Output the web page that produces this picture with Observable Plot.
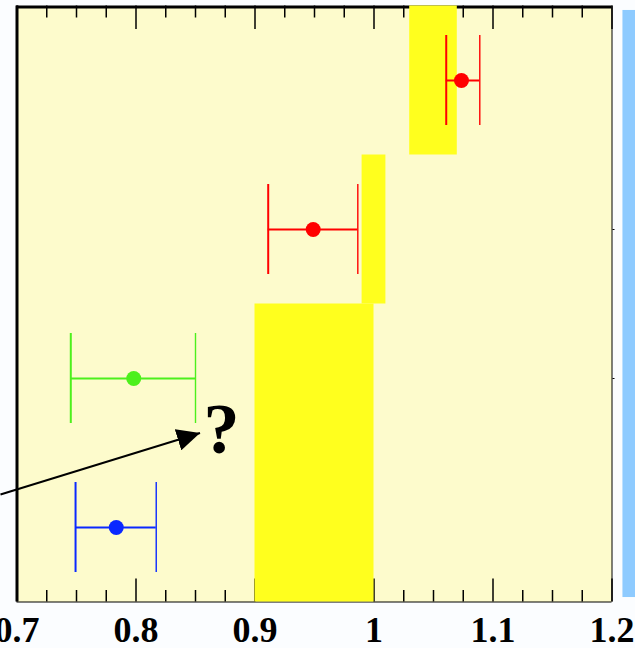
<!DOCTYPE html>
<html><head><meta charset="utf-8">
<script src="https://cdn.jsdelivr.net/npm/d3@7"></script>
<script src="https://cdn.jsdelivr.net/npm/@observablehq/plot@0.6"></script>
<style>html,body{margin:0;padding:0;background:#fbfdff;overflow:hidden}</style>
</head><body><div id="chart"></div>
<script>
// ---- data ----
const rows    = [4, 3, 2, 1];
const centers = [1.0735, 0.9489, 0.7981, 0.7834];
const lows    = [1.0607, 0.9111, 0.7452, 0.7492];
const highs   = [1.0889, 0.9864, 0.8500, 0.8170];
const colors  = ["#ff0000", "#ff0000", "#4cf01c", "#0a28ff"];

const bandLo     = [1.03, 0.99, 0.90];
const bandHi     = [1.07, 1.01, 1.00];
const bandTop    = [4.5, 3.5, 2.5];
const bandBottom = [3.5, 2.5, 0.5];

const majorTicks = [0.7, 0.8, 0.9, 1.0, 1.1, 1.2];
const tickLabels = ["0.7", "0.8", "0.9", "1", "1.1", "1.2"];
const minorTicks = [0.725, 0.75, 0.775, 0.825, 0.85, 0.875, 0.925, 0.95, 0.975, 1.025, 1.05, 1.075, 1.125, 1.15, 1.175];
const rowTicks = [2, 3];

const arrowStart = [0.6861, 1.2215];
const arrowEnd   = [0.8538, 1.634];
const noteX = [0.8718], noteY = [1.497], noteText = ["?"];

const sideBarX = [1.2092, 1.235], sideBarY = [0.53, 4.47];

// ---- tables ----
const points = rows.map((r, i) => ({row: r, c: centers[i], lo: lows[i], hi: highs[i], color: colors[i]}));
const bands = bandLo.map((v, i) => ({x1: v, x2: bandHi[i], y1: bandBottom[i], y2: bandTop[i]}));
const labelOf = new Map(majorTicks.map((t, i) => [t, tickLabels[i]]));
const capHalf = 0.302;
const yMin = 0.5, yMax = 4.5;

const W = 635, H = 648, mL = 16.5, mR = 23.5, mT = 5.5, mB = 46.5;
const pxPerY = (H - mT - mB) / (yMax - yMin);   // pixels per y unit (for tick lengths)

// ticks hidden under bands that touch the bottom / top edge are left out
const bottomBands = bands.filter(b => b.y1 === yMin);
const topBands = bands.filter(b => b.y2 === yMax);
const notUnder = (bs) => (t) => !bs.some(b => t > b.x1 && t < b.x2);
const tickRows = (vals, bs, edge, lenPx) => vals.filter(notUnder(bs)).map(v => ({v, a: edge, b: edge === yMin ? yMin + lenPx / pxPerY : yMax - lenPx / pxPerY}));
const ticks = [
  ...tickRows(majorTicks, bottomBands, yMin, 23),
  ...tickRows(minorTicks, bottomBands, yMin, 11.5),
  ...tickRows(majorTicks, topBands, yMax, 23.5),
  ...tickRows(minorTicks, topBands, yMax, 12)
];

function filledArrow(color, context) {
  const ns = "http://www.w3.org/2000/svg";
  const doc = context.document;
  const m = doc.createElementNS(ns, "marker");
  m.setAttribute("viewBox", "0 -11 23 22");
  m.setAttribute("markerWidth", 23);
  m.setAttribute("markerHeight", 22);
  m.setAttribute("markerUnits", "userSpaceOnUse");
  m.setAttribute("refX", 23);
  m.setAttribute("refY", 0);
  m.setAttribute("orient", "auto");
  const p = doc.createElementNS(ns, "path");
  p.setAttribute("d", "M0,-11L23,0L0,11Z");
  p.setAttribute("fill", "#000");
  p.setAttribute("stroke", "none");
  m.appendChild(p);
  return m;
}

const serif = "'Liberation Serif', 'DejaVu Serif', serif";
const noText = () => "";

const chart = Plot.plot({
  width: W,
  height: H,
  marginLeft: mL,
  marginRight: mR,
  marginTop: mT,
  marginBottom: mB,
  x: {domain: [0.7, 1.2]},
  y: {domain: [yMin, yMax]},
  color: {type: "identity"},
  style: {background: "transparent", fontFamily: serif, overflow: "visible"},
  marks: [
    Plot.frame({fill: "#fdfbcc", stroke: null}),
    // side panel
    Plot.rect([0], {x1: () => sideBarX[0], x2: () => sideBarX[1], y1: () => sideBarY[0], y2: () => sideBarY[1], fill: "#8ecbff"}),
    // borders
    Plot.ruleX([0.7], {strokeWidth: 3}),
    Plot.ruleY([yMax], {strokeWidth: 3, dy: 1}),
    Plot.ruleX([1.2], {strokeWidth: 1}),
    Plot.ruleY([yMin], {strokeWidth: 1}),
    // inward ticks
    Plot.ruleX(ticks, {x: "v", y1: d => d.a, y2: d => d.b, stroke: "#000", strokeWidth: 1.5}),
    Plot.axisY(rowTicks, {anchor: "right", tickSize: 2, tickFormat: noText}),
    Plot.axisX(majorTicks, {anchor: "bottom", tickSize: 0, tickPadding: 14, tickFormat: (d) => labelOf.get(d),
      fontSize: 36, fontWeight: "bold", fontFamily: serif, fill: "#000"}),
    // yellow bands
    Plot.rect(bands, {x1: "x1", x2: "x2", y1: "y1", y2: "y2", fill: "#ffff1e"}),
    // error bars
    Plot.ruleY(points, {y: "row", x1: "lo", x2: "hi", stroke: "color", strokeWidth: 2}),
    Plot.ruleX(points, {x: "lo", y1: d => d.row - capHalf, y2: d => d.row + capHalf, stroke: "color", strokeWidth: 2}),
    Plot.ruleX(points, {x: "hi", y1: d => d.row - capHalf, y2: d => d.row + capHalf, stroke: "color", strokeWidth: 1.4}),
    Plot.dot(points, {x: "c", y: "row", r: 7.5, fill: "color", stroke: null}),
    // arrow annotation
    Plot.link([0], {x1: () => arrowStart[0], y1: () => arrowStart[1], x2: () => arrowEnd[0], y2: () => arrowEnd[1],
      stroke: "#000", strokeWidth: 2, markerEnd: filledArrow}),
    Plot.text(noteText, {x: (d, i) => noteX[i], y: (d, i) => noteY[i], text: d => d, fontSize: 72, fontWeight: "bold",
      fontFamily: serif, lineAnchor: "bottom", textAnchor: "middle", fill: "#000"})
  ]
});
document.getElementById("chart").appendChild(chart);
</script>
</body></html>
